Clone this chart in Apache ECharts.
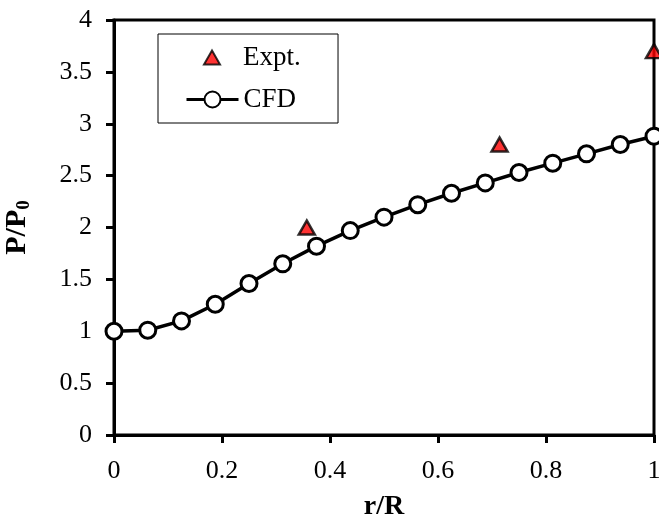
<!DOCTYPE html>
<html>
<head>
<meta charset="utf-8">
<script src="https://cdn.jsdelivr.net/npm/echarts@6/dist/echarts.min.js"></script>
<style>
  html, body { margin: 0; padding: 0; background: #fff; }
  #chart { width: 659px; height: 523px; }
</style>
</head>
<body>
<div id="chart"></div>
<script>
// CFD profile, r/R step 1/16
var cfdX = [0, 0.0625, 0.125, 0.1875, 0.25, 0.3125, 0.375, 0.4375, 0.5, 0.5625, 0.625, 0.6875, 0.75, 0.8125, 0.875, 0.9375, 1];
var cfdY = [1.0, 1.01, 1.10, 1.26, 1.46, 1.65, 1.82, 1.97, 2.10, 2.22, 2.33, 2.43, 2.53, 2.62, 2.71, 2.80, 2.88];
// experimental points
var exptX = [0.357, 0.714, 1.0];
var exptY = [2.0, 2.8, 3.7];
var xTicks = [0, 0.2, 0.4, 0.6, 0.8, 1];
var yTicks = [0, 0.5, 1, 1.5, 2, 2.5, 3, 3.5, 4];

function pairs(xs, ys){
    var out = [];
    for(var i = 0; i < xs.length; i++){
        out.push([xs[i], ys[i]]);
    }
    return out;
}

var font = 'Liberation Serif';
var chart = echarts.init(document.getElementById('chart'));

var legendText = { fontFamily: font, fontSize: 27, color: '#000', lineHeight: 27 };

var option = {
    backgroundColor: '#fff',
    animation: false,
    textStyle: { fontFamily: font, color: '#000' },
    grid: {
        left: 114, right: 5, top: 20, bottom: 88,
        outerBoundsMode: 'none',
        containLabel: false,
        show: true, borderColor: '#000', borderWidth: 3
    },
    legend: [
        {   // box + CFD row
            orient: 'vertical',
            left: 158, top: 34,
            padding: [52, 42, 10, 27],
            backgroundColor: '#fff',
            borderColor: '#000', borderWidth: 1,
            itemWidth: 52, itemHeight: 20,
            lineStyle: { width: 3, color: '#000' },
            textStyle: legendText,
            data: ['CFD']
        },
        {   // Expt row, drawn on top of the box
            orient: 'vertical',
            left: 203, top: 44,
            padding: 0,
            z: 10,
            itemWidth: 16, itemHeight: 14,
            textStyle: { fontFamily: font, fontSize: 27, color: '#000', lineHeight: 27, padding: [0, 0, 0, 18] },
            data: ['Expt.']
        }
    ],
    xAxis: {
        type: 'value', min: 0, max: 1, interval: 0.2,
        name: 'r/R', nameLocation: 'middle', nameGap: 58,
        nameTextStyle: { fontFamily: font, fontSize: 28, fontWeight: 'bold', color: '#000' },
        axisLine: { lineStyle: { color: '#000', width: 3 } },
        axisTick: { inside: false, length: 8, lineStyle: { color: '#000', width: 3 } },
        axisLabel: {
            fontFamily: font, fontSize: 26, color: '#000', margin: 23,
            formatter: function(v){ return xTicks.indexOf(+v.toFixed(1)) >= 0 ? String(+v.toFixed(1)) : ''; }
        },
        splitLine: { show: false }
    },
    yAxis: {
        type: 'value', min: 0, max: 4, interval: 0.5,
        name: '{a|P/P}{b|0}', nameLocation: 'middle', nameGap: 80,
        nameTextStyle: {
            fontFamily: font, fontWeight: 'bold', color: '#000',
            rich: {
                a: { fontFamily: font, fontSize: 30, fontWeight: 'bold', color: '#000' },
                b: { fontFamily: font, fontSize: 19, fontWeight: 'bold', color: '#000', verticalAlign: 'bottom', padding: [14, 0, 0, 0] }
            }
        },
        axisLine: { lineStyle: { color: '#000', width: 3 } },
        axisTick: { inside: false, length: 8, lineStyle: { color: '#000', width: 3 } },
        axisLabel: {
            fontFamily: font, fontSize: 26, color: '#000', margin: 22,
            formatter: function(v){ return yTicks.indexOf(+v.toFixed(1)) >= 0 ? String(+v.toFixed(1)) : ''; }
        },
        splitLine: { show: false }
    },
    series: [
        {
            name: 'Expt.',
            type: 'scatter',
            symbol: 'triangle',
            symbolSize: [16, 14],
            z: 5,
            clip: false,
            itemStyle: { color: '#ff0000', borderColor: '#000', borderWidth: 2.5 },
            data: pairs(exptX, exptY)
        },
        {
            name: 'CFD',
            type: 'line',
            symbol: 'circle',
            symbolSize: 16,
            showAllSymbol: true,
            clip: false,
            lineStyle: { color: '#000', width: 3.5 },
            itemStyle: { color: '#fff', borderColor: '#000', borderWidth: 3 },
            data: pairs(cfdX, cfdY)
        }
    ]
};
chart.setOption(option);
</script>
</body>
</html>
